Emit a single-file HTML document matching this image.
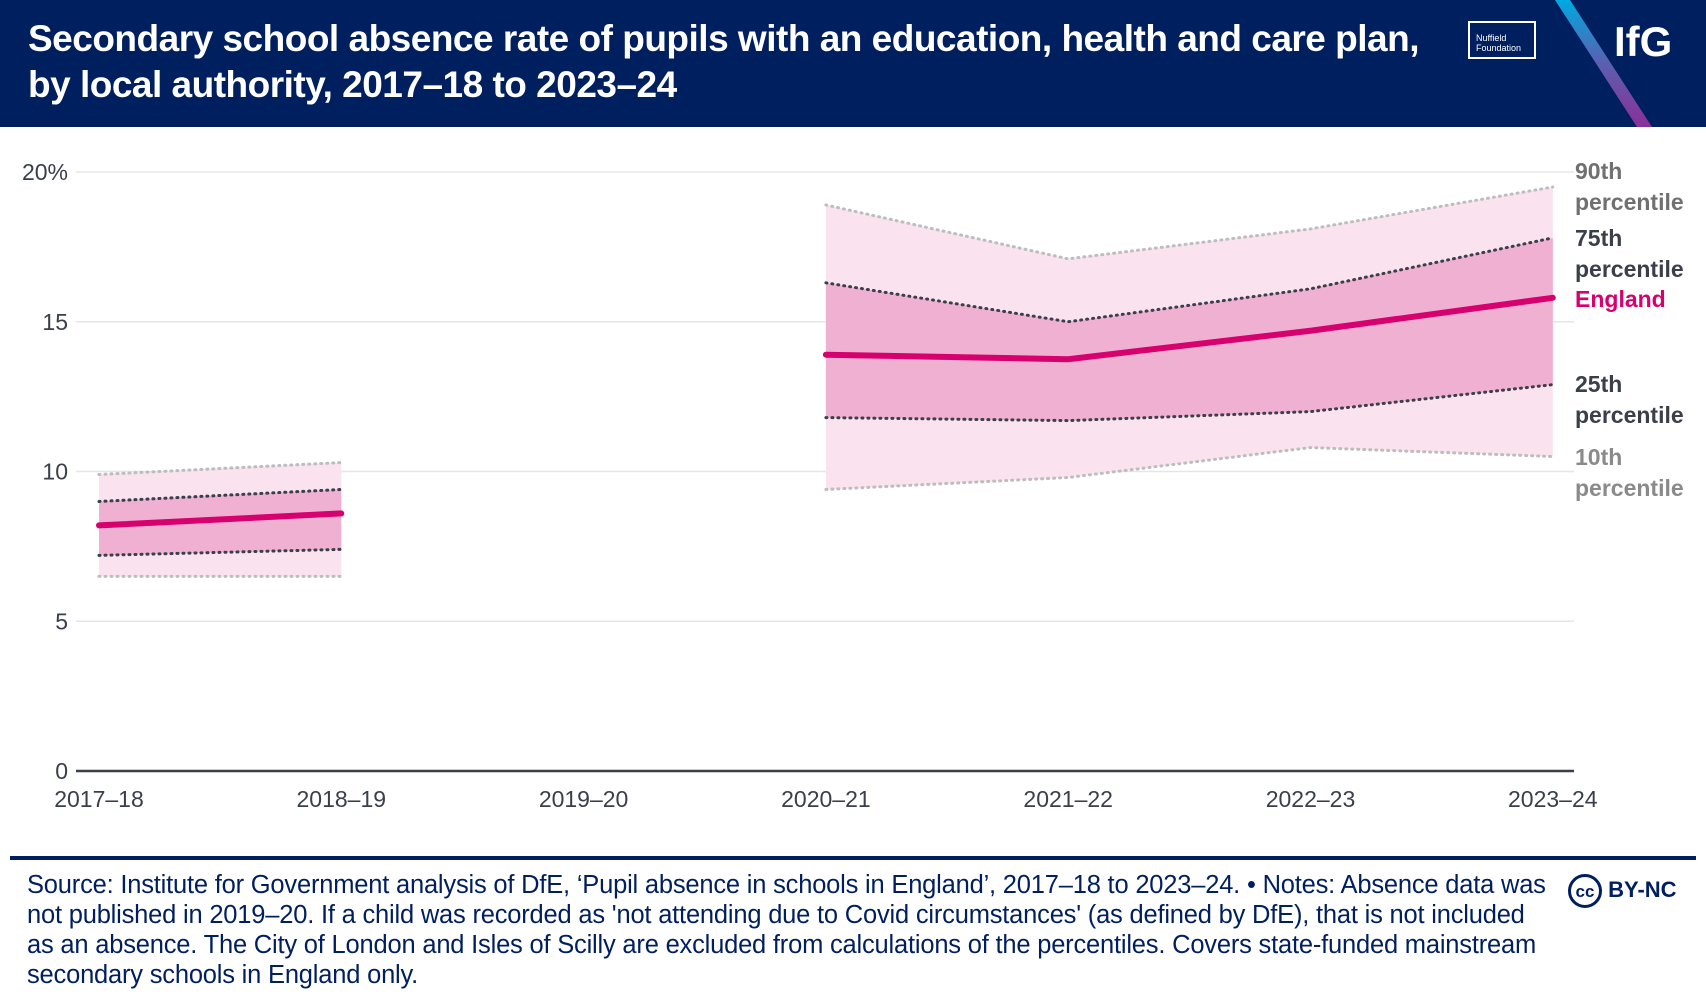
<!DOCTYPE html>
<html><head><meta charset="utf-8"><style>
body{margin:0;width:1706px;height:1008px;background:#fff;font-family:"Liberation Sans",sans-serif;overflow:hidden;position:relative}
#hdr{position:absolute;left:0;top:0;width:1706px;height:127px;background:#001f5f}
.t{position:absolute;left:28px;color:#fff;font-weight:bold;font-size:37px;white-space:nowrap;letter-spacing:-0.5px}
#foot{position:absolute;left:27px;top:870px;width:1525px;font-size:25.5px;line-height:30px;color:#001f5f;letter-spacing:-0.2px}
</style></head><body>
<div id="hdr">
<div class="t" style="top:18px">Secondary school absence rate of pupils with an education, health and care plan,</div>
<div class="t" style="top:64px">by local authority, 2017–18 to 2023–24</div>
<div style="position:absolute;left:1468px;top:21px;width:68px;height:38px;border:2px solid #fff;color:#fff;font-size:9px;line-height:10px;padding:10px 0 0 6px;box-sizing:border-box">Nuffield<br>Foundation</div>
<svg style="position:absolute;left:1530px;top:0" width="176" height="127"><defs><linearGradient id="g" x1="0" y1="0" x2="0" y2="1"><stop offset="0" stop-color="#00a9e0"/><stop offset="0.5" stop-color="#5b5fb0"/><stop offset="1" stop-color="#8a2f9a"/></linearGradient></defs><polygon points="25,0 40,0 122,127 107,127" fill="url(#g)"/></svg>
<div style="position:absolute;left:1614px;top:18px;color:#fff;font-weight:bold;font-size:42px">IfG</div>
</div>
<svg id="chart" width="1706" height="860" style="position:absolute;left:0;top:0"></svg>
<div style="position:absolute;left:10px;top:856px;width:1686px;height:4px;background:#001f5f"></div>
<div id="foot">Source: Institute for Government analysis of DfE, ‘Pupil absence in schools in England’, 2017–18 to 2023–24. • Notes: Absence data was not published in 2019–20. If a child was recorded as 'not attending due to Covid circumstances' (as defined by DfE), that is not included as an absence. The City of London and Isles of Scilly are excluded from calculations of the percentiles. Covers state-funded mainstream secondary schools in England only.</div>
<div style="position:absolute;left:1568px;top:874px;color:#001f5f;font-weight:bold;font-size:22px"><span style="display:inline-block;width:34px;height:34px;border:3px solid #001f5f;border-radius:50%;text-align:center;line-height:30px;font-size:17px;box-sizing:border-box;vertical-align:middle">cc</span> BY-NC</div>
<script>
const categories=["2017–18","2018–19","2019–20","2020–21","2021–22","2022–23","2023–24"];
const p90=[9.9,10.3,null,18.9,17.1,18.1,19.5];
const p75=[9.0,9.4,null,16.3,15.0,16.1,17.8];
const england=[8.2,8.6,null,13.9,13.75,14.7,15.8];
const p25=[7.2,7.4,null,11.8,11.7,12.0,12.9];
const p10=[6.5,6.5,null,9.4,9.8,10.8,10.5];
const yTicks=[0,5,10,15,20];
const yTickLabels=["0","5","10","15","20%"];
const NS="http://www.w3.org/2000/svg";
const svg=document.getElementById('chart');
const X=i=>99+i*242.3, Y=v=>771-v*29.95;
function mk(t,a,p){const e=document.createElementNS(NS,t);for(const k in a)e.setAttribute(k,a[k]);(p||svg).appendChild(e);return e;}
yTicks.forEach((v,i)=>{
 if(v>0){const l=mk('line',{x1:76,x2:1574,y1:Y(v),y2:Y(v),stroke:'#e6e6e6','stroke-width':1.5});
 
 }
 const t=mk('text',{x:68,y:Y(v)+8,'text-anchor':'end','font-size':23,fill:'#3a3f4a'});t.textContent=yTickLabels[i];
 
 
});
categories.forEach((c,i)=>{const t=mk('text',{x:X(i),y:807,'text-anchor':'middle','font-size':23,fill:'#3a3f4a'});t.textContent=c;
 
 });
const segs=[[0,1],[3,4,5,6]];
function pts(arr,idx){return idx.map(i=>X(i)+','+Y(arr[i]));}
segs.forEach(idx=>{
 const rev=idx.slice().reverse();
 const b1=mk('polygon',{points:pts(p90,idx).concat(pts(p10,rev)).join(' '),fill:'#fae3ee'});
 
 
 const b2=mk('polygon',{points:pts(p75,idx).concat(pts(p25,rev)).join(' '),fill:'#f0b0d2'});
 
 
 [[p90,'#bdbdbd','line-90th'],[p10,'#bdbdbd','line-10th'],[p75,'#3a3f4a','line-75th'],[p25,'#3a3f4a','line-25th']].forEach(([a,c,n])=>{
  const l=mk('polyline',{points:pts(a,idx).join(' '),fill:'none',stroke:c,'stroke-width':3,'stroke-dasharray':'1 5','stroke-linecap':'round'});
  
  
 });
 const e=mk('polyline',{points:pts(england,idx).join(' '),fill:'none',stroke:'#d6006f','stroke-width':6,'stroke-linecap':'round'});
 
 
});
const ax=mk('line',{x1:76,x2:1574,y1:771,y2:771,stroke:'#3a3f4a','stroke-width':2.5});


[[["90th","percentile"],171,'#707070','label-90th'],[["75th","percentile"],238,'#3a3f4a','label-75th'],[["England"],299,'#d6006f','label-england'],[["25th","percentile"],384,'#3a3f4a','label-25th'],[["10th","percentile"],457,'#8a8a8a','label-10th']].forEach(([ls,y,c,n])=>{
 ls.forEach((s,k)=>{const t=mk('text',{x:1575,y:y+8+k*31,'font-size':23,'font-weight':'bold',fill:c});t.textContent=s;
 
 });
});
</script>
</body></html>
